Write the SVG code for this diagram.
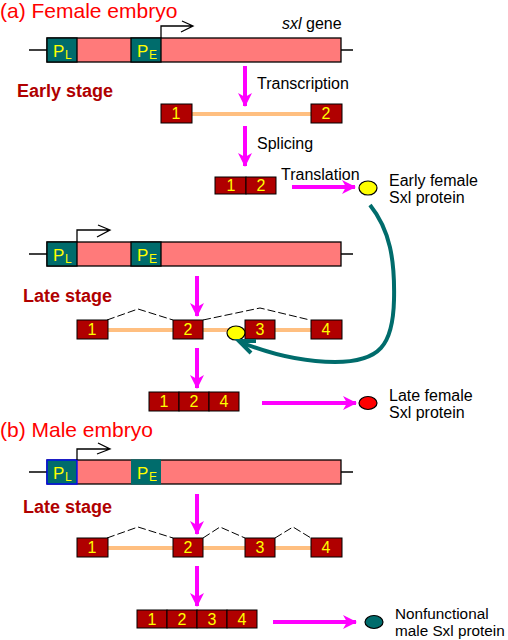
<svg xmlns="http://www.w3.org/2000/svg" width="508" height="640" viewBox="0 0 508 640">
<style>
.t{font-family:"Liberation Sans",Arial,sans-serif;fill:#000}
.h{font-family:"Liberation Sans",Arial,sans-serif;fill:#ff0000;font-size:21px}
.s{font-family:"Liberation Sans",Arial,sans-serif;fill:#b00000;font-size:18px;font-weight:bold}
.n{font-family:"Liberation Sans",Arial,sans-serif;fill:#ffff00;font-size:16px;text-anchor:middle}
.p{font-family:"Liberation Sans",Arial,sans-serif;fill:#ffff00}
.ln{stroke:#000;stroke-width:1.3;fill:none}
.gene{fill:#ff7a7a;stroke:#000;stroke-width:1.3}
.prom{fill:#006c6c;stroke:#000;stroke-width:1.3}
.ex{fill:#b00000;stroke:#000;stroke-width:1}
.intr{stroke:#ffbf80;stroke-width:4}
.spl{stroke:#000;stroke-width:1;fill:none;stroke-dasharray:8 3}
.mag{stroke:#ff00ff;stroke-width:4;fill:none;marker-end:url(#mh)}
</style>
<defs>
<marker id="mh" markerUnits="userSpaceOnUse" viewBox="0 0 14 14" refX="13" refY="7" markerWidth="14" markerHeight="14" orient="auto">
<path d="M0,0 L14,7 L0,14 L4,7 Z" fill="#ff00ff"/>
</marker>
</defs>

<text class="h" x="0" y="18">(a) Female embryo</text>

<g id="gene-early">
<line class="ln" x1="29" y1="50" x2="353" y2="50"/>
<rect class="gene" x="47" y="38" width="294" height="24"/>
<rect class="prom" x="47" y="38" width="30" height="24"/>
<rect class="prom" x="131" y="38" width="30" height="24"/>
<text class="p" x="53" y="57" font-size="17">P</text><text class="p" x="65" y="59" font-size="12">L</text>
<text class="p" x="137" y="57" font-size="17">P</text><text class="p" x="149" y="59" font-size="12">E</text>
<path class="ln" d="M161,38 V26 H193 M182,21 L193,26 L181,32"/>
<text class="t" x="282" y="29" font-size="16"><tspan font-style="italic">sxl</tspan> gene</text>
</g>

<text class="s" x="17" y="97">Early stage</text>

<g id="transcript-early">
<line class="intr" x1="190" y1="114" x2="312" y2="114"/>
<rect class="ex" x="161" y="104" width="31" height="19"/>
<rect class="ex" x="311" y="104" width="31" height="19"/>
<text class="n" x="176" y="119">1</text>
<text class="n" x="326" y="119">2</text>
</g>

<g id="mrna-early">
<rect class="ex" x="215" y="177" width="31" height="17"/>
<rect class="ex" x="246" y="177" width="30" height="17"/>
<text class="n" x="231" y="191">1</text>
<text class="n" x="261" y="191">2</text>
</g>

<g id="protein-early">
<ellipse cx="368" cy="188" rx="9" ry="7" fill="#ffff00" stroke="#000" stroke-width="1.2"/>
<text class="t" x="389" y="186" font-size="16">Early female</text>
<text class="t" x="389" y="203" font-size="16">Sxl protein</text>
</g>

<g id="gene-late-f">
<line class="ln" x1="29" y1="254" x2="353" y2="254"/>
<rect class="gene" x="47" y="242" width="294" height="24"/>
<rect class="prom" x="47" y="242" width="30" height="24"/>
<rect class="prom" x="131" y="242" width="30" height="24"/>
<text class="p" x="53" y="261" font-size="17">P</text><text class="p" x="65" y="263" font-size="12">L</text>
<text class="p" x="137" y="261" font-size="17">P</text><text class="p" x="149" y="263" font-size="12">E</text>
<path class="ln" d="M77,242 V230 H110 M98,225 L110,230 L97,237"/>
</g>

<text class="s" x="23" y="302">Late stage</text>

<g id="transcript-late-f">
<line class="intr" x1="105" y1="330" x2="313" y2="330"/>
<path class="spl" d="M107,320 L138,309 L173,320 M203,320 L260,308 L310,320"/>
<rect class="ex" x="77" y="320" width="31" height="19"/>
<rect class="ex" x="173" y="320" width="30" height="19"/>
<rect class="ex" x="245" y="320" width="30" height="19"/>
<rect class="ex" x="311" y="320" width="31" height="19"/>
<text class="n" x="92" y="335">1</text>
<text class="n" x="188" y="335">2</text>
<text class="n" x="260" y="335">3</text>
<text class="n" x="326" y="335">4</text>
<ellipse cx="236" cy="333" rx="9" ry="7" fill="#ffff00" stroke="#000" stroke-width="1.2"/>
</g>

<g id="mrna-late-f">
<rect class="ex" x="149" y="392" width="30" height="19"/>
<rect class="ex" x="179" y="392" width="30" height="19"/>
<rect class="ex" x="209" y="392" width="30" height="19"/>
<text class="n" x="164" y="407">1</text>
<text class="n" x="194" y="407">2</text>
<text class="n" x="224" y="407">4</text>
</g>

<g id="protein-late-f">
<ellipse cx="368" cy="403" rx="9" ry="6.5" fill="#ff0000" stroke="#000" stroke-width="1.2"/>
<text class="t" x="389" y="401" font-size="16">Late female</text>
<text class="t" x="389" y="418" font-size="16">Sxl protein</text>
</g>

<text class="h" x="0" y="437">(b) Male embryo</text>

<g id="gene-male">
<line class="ln" x1="29" y1="472" x2="353" y2="472"/>
<rect class="gene" x="47" y="460" width="294" height="24"/>
<rect x="47" y="460" width="30" height="24" fill="#006c6c" stroke="#0000ff" stroke-width="1.3"/>
<rect x="131" y="459.4" width="30" height="25.2" fill="#006c6c"/>
<text class="p" x="53" y="479" font-size="17">P</text><text class="p" x="65" y="481" font-size="12">L</text>
<text class="p" x="137" y="479" font-size="17">P</text><text class="p" x="149" y="481" font-size="12">E</text>
<path class="ln" d="M77,460 V449 H110 M98,443 L110,449 L97,454"/>
</g>

<text class="s" x="23" y="513">Late stage</text>

<g id="transcript-male">
<line class="intr" x1="105" y1="548" x2="313" y2="548"/>
<path class="spl" d="M107,538 L138,527 L173,538 M203,538 L220,527 L245,538 M275,538 L293,527 L311,538"/>
<rect class="ex" x="77" y="538" width="31" height="19"/>
<rect class="ex" x="173" y="538" width="30" height="19"/>
<rect class="ex" x="245" y="538" width="30" height="19"/>
<rect class="ex" x="311" y="538" width="31" height="19"/>
<text class="n" x="92" y="553">1</text>
<text class="n" x="188" y="553">2</text>
<text class="n" x="260" y="553">3</text>
<text class="n" x="326" y="553">4</text>
</g>

<g id="mrna-male">
<rect class="ex" x="137" y="610" width="30" height="18"/>
<rect class="ex" x="167" y="610" width="30" height="18"/>
<rect class="ex" x="197" y="610" width="30" height="18"/>
<rect class="ex" x="227" y="610" width="30" height="18"/>
<text class="n" x="152" y="625">1</text>
<text class="n" x="182" y="625">2</text>
<text class="n" x="212" y="625">3</text>
<text class="n" x="242" y="625">4</text>
</g>

<g id="protein-male">
<ellipse cx="374" cy="622" rx="9" ry="6.5" fill="#006c6c" stroke="#000" stroke-width="1.2"/>
<text class="t" x="395" y="619" font-size="15.3">Nonfunctional</text>
<text class="t" x="395" y="636" font-size="15.3">male Sxl protein</text>
</g>

<g id="connectors">
<line class="mag" x1="245" y1="66" x2="245" y2="106"/>
<text class="t" x="257" y="89" font-size="16">Transcription</text>
<line class="mag" x1="245" y1="126" x2="245" y2="166"/>
<text class="t" x="257" y="149" font-size="16">Splicing</text>
<line class="mag" x1="292" y1="187" x2="355" y2="187"/>
<text class="t" x="281" y="180" font-size="16">Translation</text>
<path d="M370,205 C390,230 395,260 394,300 C393,345 380,362 335,362 C300,362 265,352 240,342" fill="none" stroke="#006c6c" stroke-width="4"/>
<path d="M256,341 L239,341 L251,353" fill="none" stroke="#006c6c" stroke-width="4"/>
<line class="mag" x1="197" y1="276" x2="197" y2="316"/>
<line class="mag" x1="197" y1="348" x2="197" y2="388"/>
<line class="mag" x1="262" y1="403" x2="356" y2="403"/>
<line class="mag" x1="197" y1="494" x2="197" y2="534"/>
<line class="mag" x1="197" y1="566" x2="197" y2="606"/>
<line class="mag" x1="273" y1="622" x2="356" y2="622"/>
</g>
</svg>
